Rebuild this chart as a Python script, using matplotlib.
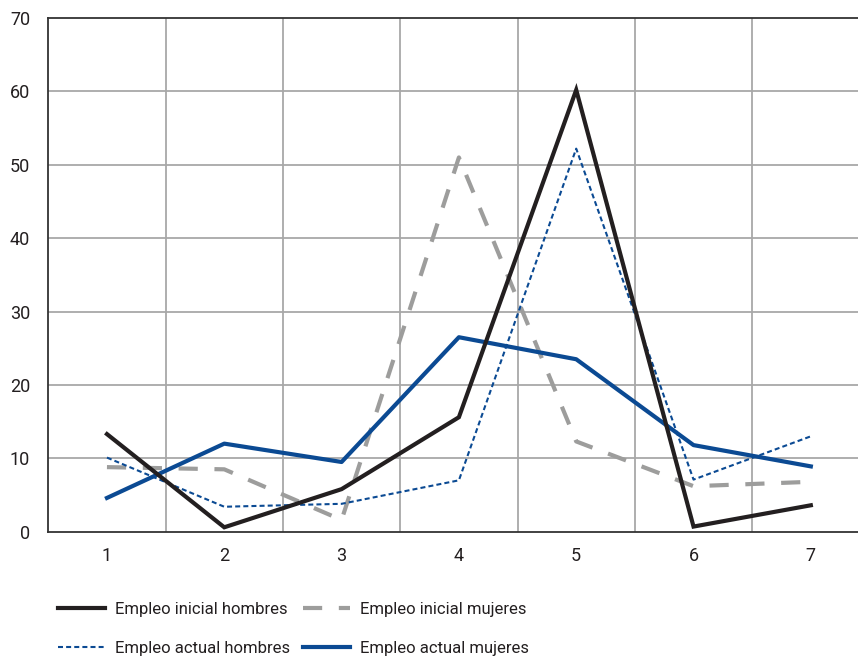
import matplotlib
matplotlib.use("Agg")
import matplotlib.pyplot as plt

categories = [1, 2, 3, 4, 5, 6, 7]
inicial_hombres = [13.3, 0.6, 5.8, 15.6, 60.2, 0.7, 3.6]
inicial_mujeres = [8.8, 8.5, 1.6, 51.0, 12.3, 6.2, 6.8]
actual_hombres = [10.1, 3.4, 3.8, 7.0, 52.2, 7.1, 13.0]
actual_mujeres = [4.6, 12.0, 9.5, 26.5, 23.5, 11.8, 8.9]
yticks = [0, 10, 20, 30, 40, 50, 60, 70]

TXT = "#231f20"
BLACK = "#231f20"
GRAY = "#9d9d9c"
BLUE = "#0b4a93"
GRID = "#a8a8a8"

plt.rcParams['font.family'] = ['Roboto', 'DejaVu Sans']

fig = plt.figure(figsize=(8.58, 6.56), dpi=100)
W, H = 858, 656
x0, x1 = 48.3, 869.5
y0, y1 = 531.7, 18.0
ax = fig.add_axes([x0 / W, 1 - y0 / H, (x1 - x0) / W, (y0 - y1) / H])

ax.set_xlim(0.5, 7.5)
ax.set_ylim(0, 70)

for xb in [1.5, 2.5, 3.5, 4.5, 5.5, 6.5]:
    ax.axvline(xb, color=GRID, lw=1.3, zorder=1)
for yv in yticks[1:-1]:
    ax.axhline(yv, color=GRID, lw=1.3, zorder=1)

l1, = ax.plot(categories, inicial_hombres, color=BLACK, lw=3.0, zorder=4,
              solid_joinstyle='miter', label='Empleo inicial hombres')
l2, = ax.plot(categories, inicial_mujeres, color=GRAY, lw=3.0, zorder=3,
              dashes=(4.6, 4.0), label='Empleo inicial mujeres')
l3, = ax.plot(categories, actual_hombres, color=BLUE, lw=1.5, zorder=3,
              dashes=(2.4, 1.5), label='Empleo actual hombres')
l4, = ax.plot(categories, actual_mujeres, color=BLUE, lw=3.0, zorder=3,
              label='Empleo actual mujeres')

ax.set_xticks(categories)
ax.set_xticklabels([str(c) for c in categories])
ax.set_yticks(yticks)
ax.tick_params(axis='both', length=0, labelsize=13, colors=TXT)
ax.tick_params(axis='y', pad=13)
ax.tick_params(axis='x', pad=11)

for s in ['left', 'bottom', 'top']:
    ax.spines[s].set_color('#333333')
    ax.spines[s].set_linewidth(1.3)
ax.spines['right'].set_visible(False)

leg = fig.legend(handles=[l1, l3, l2, l4], ncol=2, loc='upper left',
                 bbox_to_anchor=(43 / W, 1 - 587 / H), frameon=False,
                 fontsize=12, handlelength=2.8, handletextpad=0.6,
                 columnspacing=0.8, labelspacing=1.45, labelcolor=TXT)

fig.savefig("out.png", dpi=100)
